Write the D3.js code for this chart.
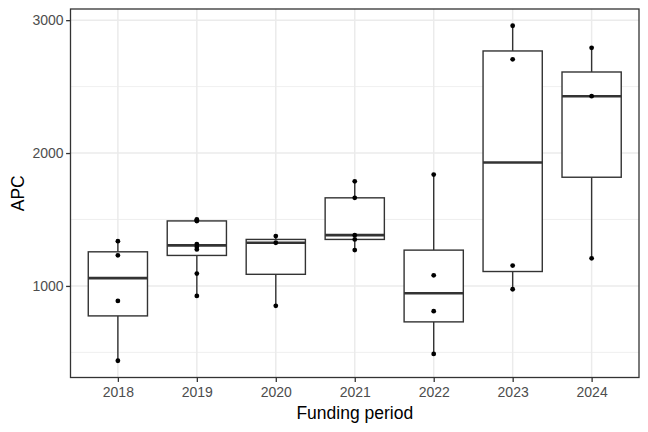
<!DOCTYPE html>
<html>
<head>
<meta charset="utf-8">
<script src="https://d3js.org/d3.v7.min.js"></script>
<style>
  body { margin: 0; background: #fff; }
  svg text { font-family: "Liberation Sans", Arial, sans-serif; }
</style>
</head>
<body>
<div id="chart"></div>
<script>
"use strict"

// values
var periods = ["2018", "2019", "2020", "2021", "2022", "2023", "2024"];
var apc2018 = [1337, 1230, 887, 437];
var apc2019 = [925, 1093, 1275, 1295, 1315, 1488, 1493, 1500];
var apc2020 = [1375, 1325, 850];
var apc2021 = [1787, 1663, 1382, 1350, 1270];
var apc2022 = [1838, 1080, 810, 488];
var apc2023 = [2958, 2705, 1153, 975];
var apc2024 = [2792, 2428, 1208];
var yTicks = [1000, 2000, 3000];
var yMinor = [500, 1500, 2500];

var series = [apc2018, apc2019, apc2020, apc2021, apc2022, apc2023, apc2024];

var W = 648, H = 432;
var margin = {top: 9, right: 9, bottom: 54.5, left: 70.5};
var pw = W - margin.left - margin.right,
    ph = H - margin.top - margin.bottom;

var svg = d3.select("#chart").append("svg")
  .attr("width", W).attr("height", H);

var g = svg.append("g")
  .attr("transform", "translate(" + margin.left + "," + margin.top + ")");

var all = d3.merge(series);
var lo = d3.min(all), hi = d3.max(all), pad = (hi - lo) * 0.05;

var x = d3.scalePoint().domain(periods).range([0, pw]).padding(0.6);
var y = d3.scaleLinear().domain([lo - pad, hi + pad]).range([ph, 0]);
var boxW = x.step() * 0.75;
var ink = "#333333";

// grid
g.selectAll(".minor").data(yMinor).enter().append("line")
  .attr("x1", 0).attr("x2", pw)
  .attr("y1", d => y(d)).attr("y2", d => y(d))
  .attr("stroke", "#ebebeb").attr("stroke-width", 0.8);
g.selectAll(".major").data(yTicks).enter().append("line")
  .attr("x1", 0).attr("x2", pw)
  .attr("y1", d => y(d)).attr("y2", d => y(d))
  .attr("stroke", "#ebebeb").attr("stroke-width", 1.5);
g.selectAll(".vmajor").data(periods).enter().append("line")
  .attr("x1", d => x(d)).attr("x2", d => x(d))
  .attr("y1", 0).attr("y2", ph)
  .attr("stroke", "#ebebeb").attr("stroke-width", 1.5);

// box stats (R type 7 quantiles)
var stats = periods.map(function(p, i) {
  var v = series[i].slice().sort(d3.ascending);
  var q1 = d3.quantile(v, 0.25), med = d3.quantile(v, 0.5), q3 = d3.quantile(v, 0.75);
  var iqr = q3 - q1;
  var wlo = d3.min(v.filter(d => d >= q1 - 1.5 * iqr));
  var whi = d3.max(v.filter(d => d <= q3 + 1.5 * iqr));
  return {p: p, q1: q1, med: med, q3: q3, wlo: wlo, whi: whi, vals: v};
});

var box = g.selectAll(".box").data(stats).enter().append("g");
box.append("line")
  .attr("x1", d => x(d.p)).attr("x2", d => x(d.p))
  .attr("y1", d => y(d.whi)).attr("y2", d => y(d.q3))
  .attr("stroke", ink).attr("stroke-width", 1.4);
box.append("line")
  .attr("x1", d => x(d.p)).attr("x2", d => x(d.p))
  .attr("y1", d => y(d.q1)).attr("y2", d => y(d.wlo))
  .attr("stroke", ink).attr("stroke-width", 1.4);
box.append("rect")
  .attr("x", d => x(d.p) - boxW / 2).attr("width", boxW)
  .attr("y", d => y(d.q3)).attr("height", d => y(d.q1) - y(d.q3))
  .attr("fill", "#fff").attr("stroke", ink).attr("stroke-width", 1.4);
box.append("line")
  .attr("x1", d => x(d.p) - boxW / 2).attr("x2", d => x(d.p) + boxW / 2)
  .attr("y1", d => y(d.med)).attr("y2", d => y(d.med))
  .attr("stroke", ink).attr("stroke-width", 2.6);

// points
stats.forEach(function(s) {
  g.selectAll(null).data(s.vals).enter().append("circle")
    .attr("cx", x(s.p)).attr("cy", d => y(d))
    .attr("r", 2.4).attr("fill", "#000");
});

// panel border
g.append("rect").attr("width", pw).attr("height", ph)
  .attr("fill", "none").attr("stroke", ink).attr("stroke-width", 1.3);

// axes
var xa = g.append("g").attr("transform", "translate(0," + ph + ")")
  .call(d3.axisBottom(x).tickSize(4.4).tickPadding(5));
var ya = g.append("g")
  .call(d3.axisLeft(y).tickValues(yTicks).tickFormat(d3.format("d")).tickSize(4.4).tickPadding(2.5));
[xa, ya].forEach(function(a) {
  a.select(".domain").remove();
  a.selectAll("line").attr("stroke", ink).attr("stroke-width", 1.3);
  a.selectAll("text").attr("fill", "#4d4d4d").style("font-size", "14px");
});

svg.append("text")
  .attr("x", margin.left + pw / 2).attr("y", 419)
  .attr("text-anchor", "middle").style("font-size", "17.5px").attr("fill", "#000")
  .text("Funding period");
svg.append("text")
  .attr("transform", "translate(23.5," + (margin.top + ph / 2) + ") rotate(-90)")
  .attr("text-anchor", "middle").style("font-size", "17.5px").attr("fill", "#000")
  .text("APC");
</script>
</body>
</html>
